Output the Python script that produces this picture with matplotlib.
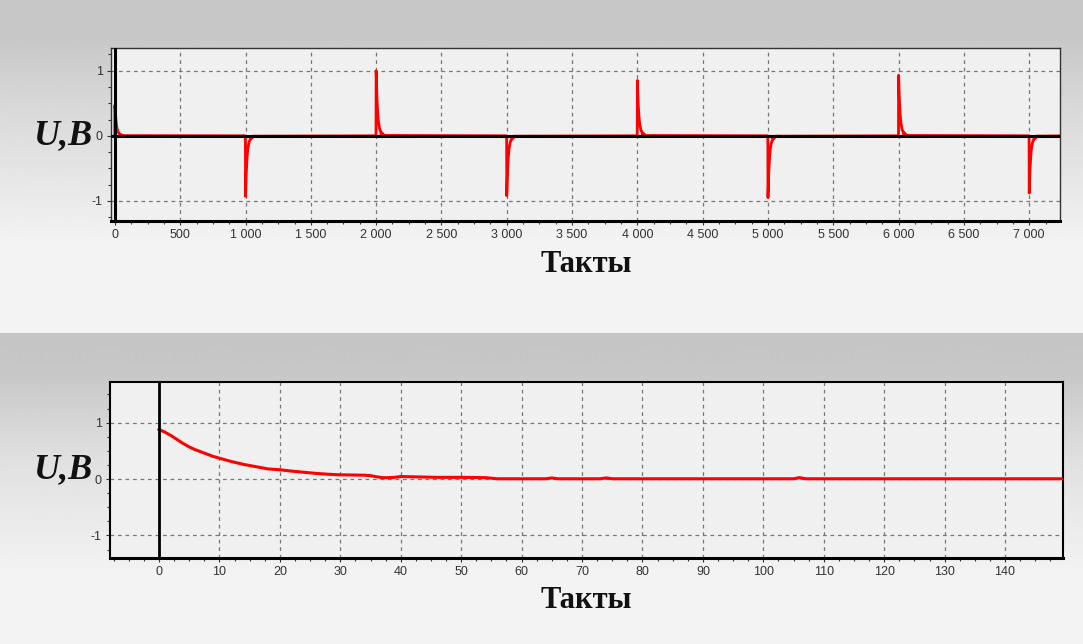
import numpy as np
import matplotlib
matplotlib.use('Agg')
from matplotlib import pyplot as plt
from matplotlib.ticker import MultipleLocator, FuncFormatter

plt.rcParams['axes.unicode_minus'] = False
plt.rcParams['font.family'] = ['Liberation Sans', 'DejaVu Sans']

# данные: импульсы на верхнем графике (такт, амплитуда)
spike_x = [0, 1000, 2000, 3000, 4000, 5000, 6000, 7000]
spike_amp = [0.47, -0.93, 1.0, -0.92, 0.85, -0.95, 0.93, -0.88]

# нижний график: затухание после импульса в такте 0
t_bottom = [0, 1, 2, 3, 4, 5, 6, 7, 8, 9, 10, 12, 14, 16, 18, 20, 22, 24, 26, 28, 30, 32, 34, 35,
            36, 37, 38, 39, 40, 42, 44, 46, 48, 50, 52, 54, 55, 56, 64, 65, 66, 73, 74, 75,
            105, 106, 107, 150]
u_bottom = [0.88, 0.83, 0.77, 0.70, 0.63, 0.57, 0.52, 0.48, 0.44, 0.40, 0.37, 0.31, 0.26, 0.22,
            0.18, 0.165, 0.14, 0.12, 0.10, 0.085, 0.075, 0.072, 0.068, 0.06, 0.04, 0.025, 0.025,
            0.03, 0.045, 0.04, 0.035, 0.03, 0.03, 0.03, 0.028, 0.025, 0.015, 0.005, 0.005, 0.02,
            0.005, 0.005, 0.02, 0.005, 0.005, 0.025, 0.005, 0.005]

# форма импульса верхнего графика = нормированная кривая нижнего (до 56 такта)
n_dec = t_bottom.index(56) + 1
dec_t = np.array(t_bottom[:n_dec])
dec_v = np.array(u_bottom[:n_dec]) / u_bottom[0]

xs, ys = [], []
for x0, a in zip(spike_x, spike_amp):
    xs += [x0 - 1]
    ys += [0]
    xs += list(x0 + dec_t)
    ys += list(a * dec_v)
xs.append(7300)
ys.append(0)

fig = plt.figure(figsize=(10.83, 6.44), dpi=100)
fig.patch.set_facecolor('#f2f2f2')

# фон с градиентом
bg = fig.add_axes([0, 0, 1, 1], zorder=-10)
stops_y = [0, 35, 120, 240, 332, 333, 372, 460, 570, 644]
stops_g = [0.78, 0.78, 0.86, 0.95, 0.95, 0.77, 0.78, 0.88, 0.95, 0.95]
col = np.interp(np.arange(644), stops_y, stops_g)
bg.imshow(np.tile(col[:, None], (1, 10)), cmap='gray', vmin=0, vmax=1, aspect='auto',
          extent=[0, 1, 1, 0])
bg.axis('off')

thousands = FuncFormatter(lambda v, p: f"{int(v):,}".replace(",", " "))


def style(ax):
    ax.set_facecolor('#f0f0f0')
    ax.grid(True, which='major', color='#777777', linestyle=(0, (3, 3)), linewidth=0.9)
    ax.tick_params(which='both', direction='out', labelsize=9, colors='#333333', length=3,
                   width=0.8, pad=3)
    ax.tick_params(which='minor', length=2.5)
    ax.set_yticks([-1, 0, 1])
    ax.yaxis.set_minor_locator(MultipleLocator(0.25))
    for s in ['top', 'right', 'left']:
        ax.spines[s].set_color('#333333')
        ax.spines[s].set_linewidth(1.0)
    ax.spines['bottom'].set_color('black')
    ax.spines['bottom'].set_linewidth(2.2)
    ax.set_axisbelow(True)


# верхний график
ax1 = fig.add_axes([0.1025, 0.6568, 0.8763, 0.2687])
style(ax1)
ax1.plot(xs, ys, color='red', linewidth=2, zorder=3)
ax1.axhline(0, color='black', linewidth=2.2, zorder=4)
ax1.axvline(0, color='black', linewidth=2.2, zorder=4)
ax1.set_xlim(-30, 7236)
ax1.set_ylim(-1.31, 1.35)
ax1.xaxis.set_major_locator(MultipleLocator(500))
ax1.xaxis.set_minor_locator(MultipleLocator(125))
ax1.xaxis.set_major_formatter(thousands)

# нижний график
ax2 = fig.add_axes([0.1016, 0.1335, 0.880, 0.2733])
style(ax2)
for s in ['top', 'right', 'left']:
    ax2.spines[s].set_color('black')
    ax2.spines[s].set_linewidth(1.5)
ax2.plot(t_bottom, u_bottom, color='red', linewidth=2.2, zorder=3)
ax2.axvline(0, color='black', linewidth=2, zorder=4)
ax2.set_xlim(-8.1, 149.6)
ax2.set_ylim(-1.40, 1.72)
ax2.xaxis.set_major_locator(MultipleLocator(10))
ax2.xaxis.set_minor_locator(MultipleLocator(2.5))

serif = ['Liberation Serif', 'DejaVu Serif']
for ax, yc, xc in [(ax1, 136, 264), (ax2, 470, 600)]:
    fig.text(63 / 1083, 1 - yc / 644, 'U,B', fontsize=26, fontweight='bold', fontstyle='italic',
             family=serif, ha='center', va='center', color='#111111')
    fig.text(586 / 1083, 1 - xc / 644, 'Такты', fontsize=22, fontweight='bold',
             family=serif, ha='center', va='center', color='#111111')

fig.savefig('out.png', dpi=100, facecolor=fig.get_facecolor())
